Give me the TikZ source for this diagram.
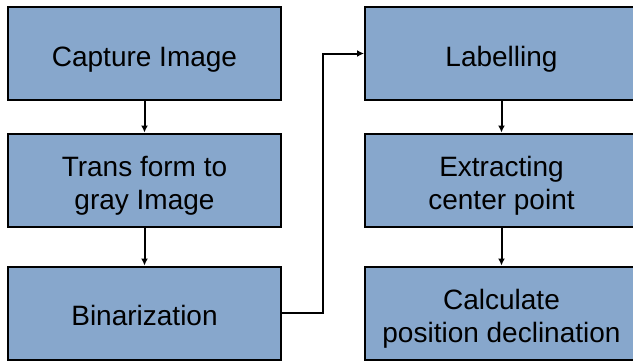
\documentclass[tikz,border=0pt]{standalone}
\usepackage{fontspec}
\setmainfont{Liberation Sans}
\usepackage{xcolor}
\usetikzlibrary{arrows.meta,positioning}
\definecolor{boxblue}{RGB}{135,167,204}
\newcommand{\steptext}[1]{\raisebox{-6pt}[\height][\depth]{\begin{tabular}{@{}c@{}}#1\end{tabular}}}

\begin{document}
\begin{tikzpicture}[x=1pt,y=-1pt,>={Latex[length=7pt,width=7pt]},
  stepbox/.style={draw=black,line width=2pt,fill=boxblue,minimum width=273pt,minimum height=93pt,
    inner sep=0pt,font=\fontsize{28}{33}\selectfont},
  flow/.style={->,line width=2pt}]
\clip (0,0) rectangle (633,362);
\fill[white] (0,0) rectangle (633,362);
% left column
\node[stepbox] (capture) at (144.5,53.5) {\steptext{Capture Image}};
\node[stepbox] (gray) at (144.5,180) {\steptext{Trans form to\\gray Image}};
\node[stepbox] (binar) at (144.5,313) {\steptext{Binarization}};
% right column
\node[stepbox] (label) at (501.5,53.5) {\steptext{Labelling}};
\node[stepbox] (center) at (501.5,180) {\steptext{Extracting\\center point}};
\node[stepbox] (calc) at (501.5,313) {\steptext{Calculate\\position declination}};
\coordinate (turn) at (323,313);
\draw[flow](capture)--(gray);
\draw[flow](gray)--(binar);
\draw[flow](binar.east)--(turn)|-(label.west);
\draw[flow](label)--(center);
\draw[flow](center)--(calc);
\end{tikzpicture}
\end{document}
